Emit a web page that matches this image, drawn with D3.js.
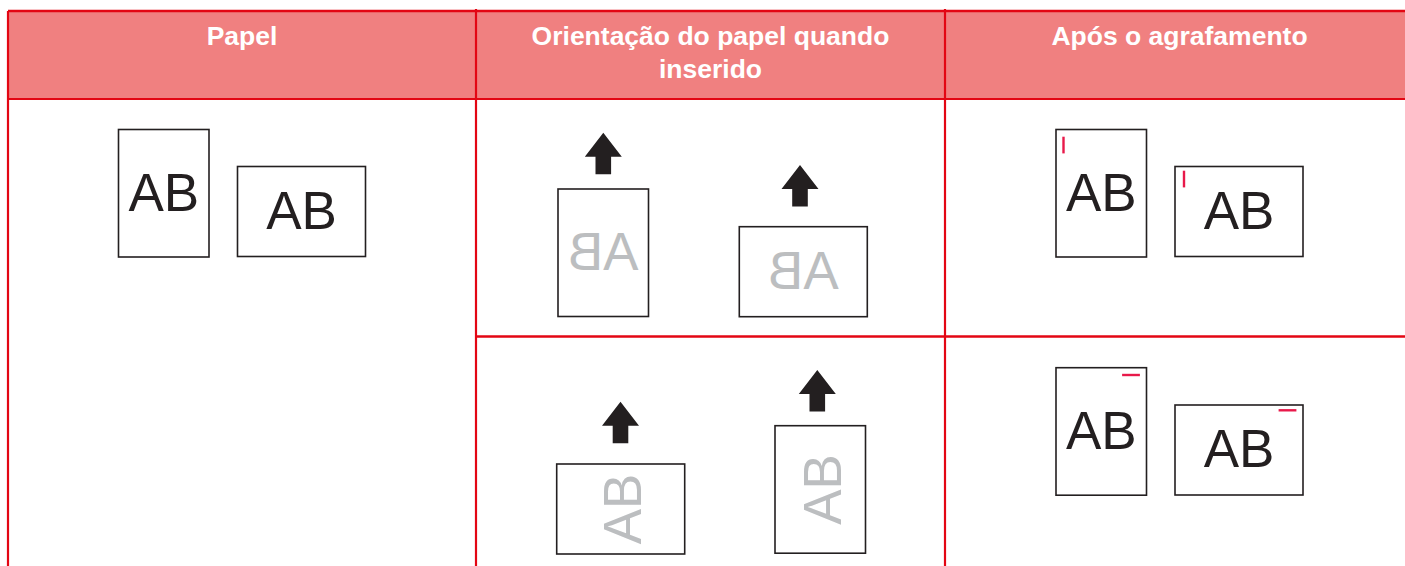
<!DOCTYPE html>
<html><head><meta charset="utf-8">
<script src="https://cdn.jsdelivr.net/npm/d3@7"></script>
<style>html,body{margin:0;padding:0;background:#fff;} svg{display:block;}</style>
</head><body><svg id="c" width="1405" height="566"></svg>
<script>
// ---- content ----
const headerLines = [["Papel"], ["Orientação do papel quando", "inserido"], ["Após o agrafamento"]];
const sheetLabel = "AB";
const sheetColumn = [0, 0, 1, 1, 1, 1, 2, 2, 2, 2];
const sheetRow = [0, 0, 0, 0, 1, 1, 0, 0, 1, 1];
const sheetOrientation = ["portrait", "landscape", "portrait", "landscape", "landscape", "portrait", "portrait", "landscape", "portrait", "landscape"];
const sheetPrint = ["face", "face", "mirror", "mirror", "turned", "turned", "face", "face", "face", "face"];
const sheetStaple = ["none", "none", "none", "none", "none", "none", "side", "side", "top", "top"];
const sheetFeedArrow = [false, false, true, true, true, true, false, false, false, false];

// ---- layout ----
const svg = d3.select("#c");
const colEdges = [8, 476, 945, 1414];
const headerTop = 11, headerBottom = 99, rowDivider = 336.5, tableBottom = 570;
const RED = "#e30613", INK = "#231f20", GREY = "#bcbec0", STAPLE = "#e8194a";
const size = { portrait: [90.5, 127.5], landscape: [128, 90] };
// top-left corner of each sheet inside the diagram
const slotX = [118.5, 237.5, 558, 739.3, 556.7, 775, 1056, 1175, 1056, 1175];
const slotY = [129.5, 166.5, 189, 226.7, 464, 425.7, 129.5, 166.5, 367.7, 405];
const arrowX = [0, 0, 603.3, 800, 620.5, 817.3, 0, 0, 0, 0];
const arrowY = [0, 0, 132.7, 165, 401.7, 370, 0, 0, 0, 0];

const font = "'Liberation Sans', Arial, Helvetica, sans-serif";

// header band
svg.append("rect").attr("x", colEdges[0]).attr("y", headerTop)
  .attr("width", colEdges[3] - colEdges[0]).attr("height", headerBottom - headerTop)
  .attr("fill", "#f08080");

headerLines.forEach((lines, i) => {
  const cx = (colEdges[i] + colEdges[i + 1]) / 2;
  const t = svg.append("text").attr("text-anchor", "middle")
    .attr("font-family", font).attr("font-weight", "bold").attr("font-size", 26.5)
    .attr("fill", "#fff");
  lines.forEach((l, j) => t.append("tspan").attr("x", cx).attr("y", 45 + j * 33).text(l));
});

// grid lines
const lines = [
  { x1: colEdges[0], y1: headerTop, x2: colEdges[3], y2: headerTop, w: 2.7 },
  { x1: colEdges[0], y1: headerBottom, x2: colEdges[3], y2: headerBottom, w: 2.2 },
  { x1: colEdges[0], y1: headerTop, x2: colEdges[0], y2: tableBottom, w: 2.2 },
  { x1: colEdges[1], y1: 9, x2: colEdges[1], y2: tableBottom, w: 2.2 },
  { x1: colEdges[2], y1: 9, x2: colEdges[2], y2: tableBottom, w: 2.2 },
  { x1: colEdges[3], y1: 9, x2: colEdges[3], y2: tableBottom, w: 2.2 },
  { x1: colEdges[1], y1: rowDivider, x2: colEdges[3], y2: rowDivider, w: 2.4 }
];
svg.selectAll("line.grid").data(lines).join("line").attr("class", "grid")
  .attr("x1", d => d.x1).attr("y1", d => d.y1).attr("x2", d => d.x2).attr("y2", d => d.y2)
  .attr("stroke", RED).attr("stroke-width", d => d.w);

// sheets
const idx = d3.range(sheetColumn.length);
idx.forEach(i => {
  const [w, h] = size[sheetOrientation[i]];
  const x = slotX[i], y = slotY[i];
  const g = svg.append("g");
  g.append("rect").attr("x", x).attr("y", y).attr("width", w).attr("height", h)
    .attr("fill", "#fff").attr("stroke", INK).attr("stroke-width", 1.6);
  const cx = x + w / 2, cy = y + h / 2 - 1.5;
  const fs = 53, half = fs * 0.716 / 2;
  let tr;
  if (sheetPrint[i] === "mirror") tr = `translate(${cx},${cy}) scale(-1,1)`;
  else if (sheetPrint[i] === "turned") tr = `translate(${cx + 1.5},${cy + 1.5}) rotate(-90)`;
  else tr = `translate(${cx},${cy})`;
  g.append("text").attr("transform", tr).attr("x", 0).attr("y", half)
    .attr("text-anchor", "middle").attr("font-family", font).attr("font-size", fs)
    .attr("fill", sheetPrint[i] === "face" ? INK : GREY).text(sheetLabel);
  if (sheetStaple[i] === "side") {
    const dy = sheetOrientation[i] === "portrait" ? 7.2 : 4.2;
    const dx = sheetOrientation[i] === "portrait" ? 7.5 : 9;
    g.append("line").attr("x1", x + dx).attr("x2", x + dx).attr("y1", y + dy).attr("y2", y + dy + 16.7)
      .attr("stroke", STAPLE).attr("stroke-width", 2.4);
  } else if (sheetStaple[i] === "top") {
    const dy = sheetOrientation[i] === "portrait" ? 7.3 : 5.3;
    g.append("line").attr("x1", x + w - 24.4).attr("x2", x + w - 6.6).attr("y1", y + dy).attr("y2", y + dy)
      .attr("stroke", STAPLE).attr("stroke-width", 2.4);
  }
  if (sheetFeedArrow[i]) {
    g.append("path").attr("transform", `translate(${arrowX[i]},${arrowY[i]})`)
      .attr("d", "M0,0L18.5,24L7.8,24L7.8,41.6L-7.8,41.6L-7.8,24L-18.5,24Z")
      .attr("fill", INK);
  }
});
</script></body></html>
